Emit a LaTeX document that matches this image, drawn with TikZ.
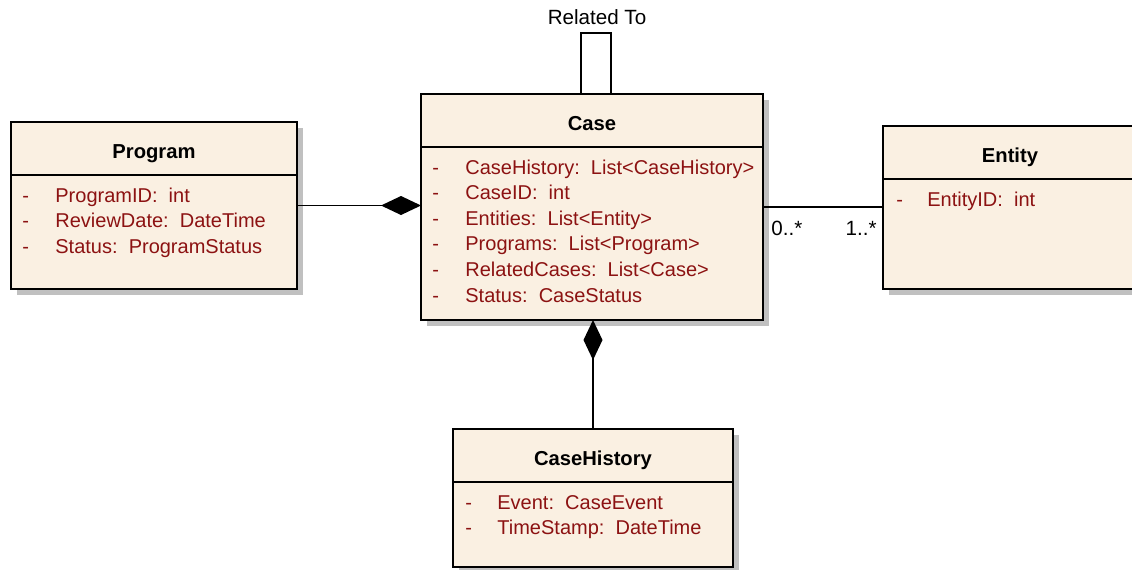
\documentclass[tikz,border=0pt]{standalone}
\usepackage{fontspec}
\setmainfont{Liberation Sans}
\usetikzlibrary{arrows.meta,shadows}
\definecolor{classfill}{RGB}{250,240,226}
\definecolor{attrred}{RGB}{140,18,18}
\definecolor{shadowgray}{RGB}{192,192,192}
\begin{document}
\begin{tikzpicture}[x=0.5pt,y=-0.5pt,
  classbox/.style={draw=black, line width=1pt, fill=classfill, inner sep=0pt, outer sep=0pt,
    drop shadow={shadow xshift=3pt, shadow yshift=-3pt, fill=shadowgray, opacity=1}},
  sepline/.style={draw=black, line width=1pt},
  classtitle/.style={font=\fontsize{10.1}{12}\selectfont\bfseries, inner sep=0pt, anchor=base},
  attr/.style={font=\fontsize{10}{12}\selectfont, text=attrred, inner sep=0pt, anchor=base west},
  mult/.style={font=\fontsize{10.3}{12}\selectfont, inner sep=0pt},
  conn/.style={draw=black, line width=0.8pt},
  compose/.style={conn, -{Diamond[length=20pt,width=9.5pt]}}
]
\useasboundingbox (0,0) rectangle (1132,569);
\clip (0,0) rectangle (1132,569);

% class boxes
\node[classbox, minimum width=143pt, minimum height=83.5pt] (program) at (154,205.5) {};
\node[classbox, minimum width=171pt, minimum height=113pt] (case) at (592,207) {};
\node[classbox, minimum width=127pt, minimum height=81.5pt] (entity) at (1010,207.5) {};
\node[classbox, minimum width=140pt, minimum height=69pt] (casehistory) at (593,498) {};

% header separators
\foreach \c in {program,case,entity,casehistory}
  \draw[sepline] ([yshift=-26.5pt]\c.north west) -- ([yshift=-26.5pt]\c.north east);

% titles
\node[classtitle] (programtitle) at ([yshift=-18pt]program.north) {Program};
\node[classtitle] (casetitle) at ([yshift=-18pt]case.north) {Case};
\node[classtitle] (entitytitle) at ([yshift=-18pt]entity.north) {Entity};
\node[classtitle] (casehistorytitle) at ([yshift=-18pt]casehistory.north) {CaseHistory};

% attributes
\foreach [count=\i] \t in {ProgramID:\ \ int, ReviewDate:\ \ DateTime, Status:\ \ ProgramStatus}{
  \node[attr] (program-dash\i) at ([xshift=5.5pt, yshift={-40pt-(\i-1)*12.8pt}]program.north west) {-};
  \node[attr] (program-attr\i) at ([xshift=22pt, yshift={-40pt-(\i-1)*12.8pt}]program.north west) {\t};
}
\foreach [count=\i] \t in {CaseHistory:\ \ List<CaseHistory>, CaseID:\ \ int, Entities:\ \ List<Entity>,
    Programs:\ \ List<Program>, RelatedCases:\ \ List<Case>, Status:\ \ CaseStatus}{
  \node[attr] (case-dash\i) at ([xshift=5.5pt, yshift={-40pt-(\i-1)*12.8pt}]case.north west) {-};
  \node[attr] (case-attr\i) at ([xshift=22pt, yshift={-40pt-(\i-1)*12.8pt}]case.north west) {\t};
}
\node[attr] (entity-dash1) at ([xshift=6.5pt, yshift=-40pt]entity.north west) {-};
\node[attr] (entity-attr1) at ([xshift=22pt, yshift=-40pt]entity.north west) {EntityID:\ \ int};
\foreach [count=\i] \t in {Event:\ \ CaseEvent, TimeStamp:\ \ DateTime}{
  \node[attr] (casehistory-dash\i) at ([xshift=6pt, yshift={-40pt-(\i-1)*12.8pt}]casehistory.north west) {-};
  \node[attr] (casehistory-attr\i) at ([xshift=22pt, yshift={-40pt-(\i-1)*12.8pt}]casehistory.north west) {\t};
}

% associations
\draw[compose] (program.east) -- (program.east -| case.west);
\draw[conn] (case.east) -- (case.east -| entity.west);
\draw[compose] (casehistory.north) -- (casehistory.north |- case.south);
\draw[conn] ([xshift=-5.5pt]case.north) -- ++(0,-61) -| ([xshift=9.5pt]case.north);

% labels
\node[mult, anchor=base] (relatedto) at ([xshift=2.5pt, yshift=35pt]case.north) {Related To};
\node[mult, anchor=base west] (mult0) at ([xshift=4pt, yshift=-14pt]case.east) {0..*};
\node[mult, anchor=base east] (mult1) at ([xshift=-3pt, yshift=-13.75pt]entity.west) {1..*};
\end{tikzpicture}
\end{document}
